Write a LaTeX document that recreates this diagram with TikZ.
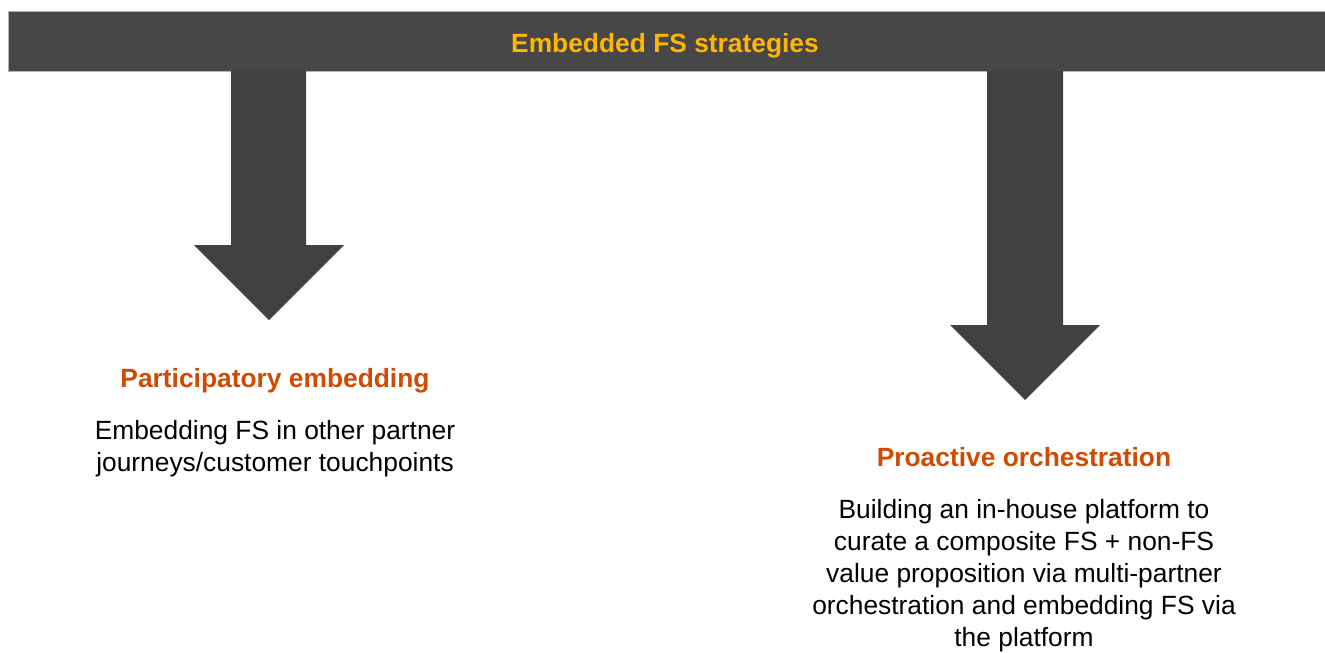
\documentclass[tikz,border=0pt]{standalone}
\usepackage{fontspec}
\setmainfont{Liberation Sans}
\usepackage{tikz}
\definecolor{bargrey}{HTML}{474747}
\definecolor{arrowgrey}{HTML}{414042}
\definecolor{gold}{HTML}{FFB600}
\definecolor{rust}{HTML}{D04A02}

\begin{document}
\begin{tikzpicture}[scale=1,>=latex]
	\tikzstyle{txt}=[inner sep=0pt,align=center,font=\fontsize{15}{18.3}\selectfont]
	\tikzstyle{head}=[txt, text=rust, font=\fontsize{15}{18.3}\selectfont\bfseries];
	\tikzstyle{body}=[txt, text=black];
	\tikzstyle{blockarrow}=[fill=arrowgrey, draw=none];

\useasboundingbox (0,0) rectangle (26.5,-13.04);

% top bar
\node[fill=bargrey, draw=black!30, line width=0.4pt, minimum width=26.34cm, minimum height=1.2cm, inner sep=0pt](bar) at (13.33,-0.82){};
\node[head, text=gold](title) at (13.3,-0.92){Embedded FS strategies};

% arrows
\fill[blockarrow] (4.62,-1.42) -- (6.12,-1.42) -- (6.12,-4.9) -- (6.88,-4.9) -- (5.38,-6.4) -- (3.88,-4.9) -- (4.62,-4.9) -- cycle;
\fill[blockarrow] (19.74,-1.42) -- (21.26,-1.42) -- (21.26,-6.5) -- (22.0,-6.5) -- (20.5,-8.0) -- (19.0,-6.5) -- (19.74,-6.5) -- cycle;

\node[head](h1) at (5.5,-7.62){Participatory embedding};
\node[body](b1) at (5.5,-8.98){Embedding FS in other partner\\journeys/customer touchpoints};

\node[head](h2) at (20.48,-9.15){Proactive orchestration};
\node[body](b2) at (20.48,-11.51){Building an in-house platform to\\curate a composite FS + non-FS\\value proposition via multi-partner\\orchestration and embedding FS via\\the platform};

\end{tikzpicture}
\end{document}
